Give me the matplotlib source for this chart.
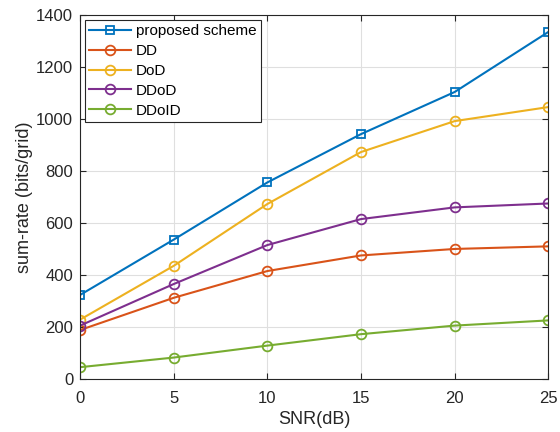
import numpy as np
import matplotlib.pyplot as plt

plt.rcParams['font.family'] = ['Liberation Sans', 'DejaVu Sans']

snr = [0, 5, 10, 15, 20, 25]
proposed = [323, 536, 756, 942, 1104, 1335]
dd = [188, 312, 415, 475, 500, 510]
dod = [228, 435, 673, 873, 992, 1046]
ddod = [205, 365, 515, 615, 660, 675]
ddoid = [45, 82, 128, 172, 205, 225]

fig = plt.figure(figsize=(5.6, 4.32), dpi=100)
ax = fig.add_axes([0.143, 0.123, 0.836, 0.842])

ax.plot(snr, proposed, color='#0072BD', marker='s', mfc='none', ms=5.5, mew=1.3, lw=1.5, label='proposed scheme')
ax.plot(snr, dd, color='#D95319', marker='o', mfc='none', ms=7, mew=1.3, lw=1.5, label='DD')
ax.plot(snr, dod, color='#EDB120', marker='o', mfc='none', ms=7, mew=1.3, lw=1.5, label='DoD')
ax.plot(snr, ddod, color='#7E2F8E', marker='o', mfc='none', ms=7, mew=1.3, lw=1.5, label='DDoD')
ax.plot(snr, ddoid, color='#77AC30', marker='o', mfc='none', ms=7, mew=1.3, lw=1.5, label='DDoID')

ax.set_xlim(0, 25)
ax.set_ylim(0, 1400)
ax.set_xticks(np.arange(0, 26, 5))
ax.set_yticks(np.arange(0, 1401, 200))
ax.grid(True, color='#dfdfdf', lw=0.8)
ax.set_axisbelow(True)
ax.tick_params(direction='in', top=True, right=True, labelsize=12, colors='#262626', length=4)
ax.tick_params(axis='x', pad=9)
ax.tick_params(axis='y', pad=5)
for s in ax.spines.values():
    s.set_color('#262626')
    s.set_linewidth(0.8)
ax.set_xlabel('SNR(dB)', fontsize=13, color='#262626', labelpad=3)
ax.set_ylabel('sum-rate (bits/grid)', fontsize=13, color='#262626', labelpad=2)

leg = ax.legend(loc='upper left', fontsize=11, fancybox=False, framealpha=1,
                edgecolor='#262626', borderaxespad=0.3, handlelength=2.75,
                labelspacing=0.38, borderpad=0.3, handletextpad=0.3)
leg.get_frame().set_linewidth(0.8)

fig.savefig('out.png', dpi=100)
